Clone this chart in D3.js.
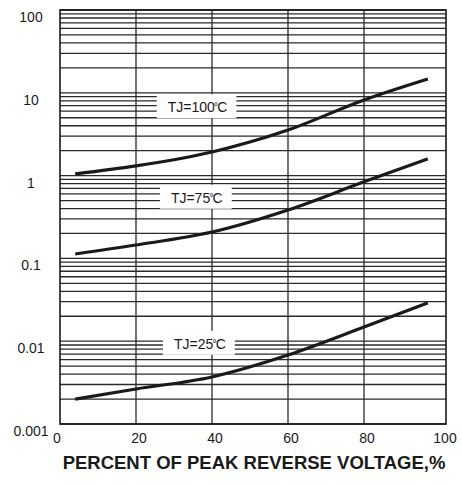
<!DOCTYPE html>
<html>
<head>
<meta charset="utf-8">
<script src="https://cdn.jsdelivr.net/npm/d3@7"></script>
<style>
  body { margin: 0; background: #fff; }
  text { font-family: "Liberation Sans", Arial, sans-serif; fill: #1a1a1a; }
</style>
</head>
<body>
<div id="chart"></div>
<script>
// values
var xPct = [4, 20, 40, 60, 80, 96.8];
var tj100 = [1.05, 1.31, 1.93, 3.55, 8.2, 14.7];
var tj75 = [0.113, 0.145, 0.208, 0.384, 0.84, 1.59];
var tj25 = [0.0020, 0.00265, 0.0037, 0.0068, 0.0148, 0.029];

var seriesNames = ["TJ=100", "TJ=75", "TJ=25"];
var labelX = [36.2, 36, 36.8];
var labelY = [6.7, 0.54, 0.0093];

var xTicks = [0, 20, 40, 60, 80, 100];
var yTicks = [0.001, 0.01, 0.1, 1, 10, 100];
var yTickLabels = ["0.001", "0.01", "0.1", "1", "10", "100"];

(function () {
    var width = 462,
        height = 484;

    var svg = d3.select('#chart')
                .append('svg')
                .attr('width', width)
                .attr('height', height);

    var xScale = d3.scaleLinear().domain([0, 100]).range([60, 440]);
    var yScale = d3.scaleLog().domain([0.001, 100]).range([424, 10]);
    var rightEdge = 446;

    // minor grid: 1..9 in every decade
    var gridVals = [];
    for (var e = -3; e < 2; e++) {
        for (var m = 1; m <= 9; m++) gridVals.push(m * Math.pow(10, e));
    }
    gridVals.push(100);

    var grid = svg.append('g').attr('stroke', '#2a2a2a').attr('stroke-width', 1.3);
    grid.selectAll('line.h')
        .data(gridVals)
        .enter()
        .append('line')
        .attr('class', 'h')
        .attr('x1', xScale(0)).attr('x2', rightEdge)
        .attr('y1', function(d) { return yScale(d); })
        .attr('y2', function(d) { return yScale(d); });

    grid.selectAll('line.v')
        .data(xTicks.slice(1, 5))
        .enter()
        .append('line')
        .attr('class', 'v')
        .attr('y1', yScale(100)).attr('y2', yScale(0.001))
        .attr('x1', function(d) { return xScale(d); })
        .attr('x2', function(d) { return xScale(d); });

    // frame
    svg.append('rect')
        .attr('x', xScale(0)).attr('y', yScale(100))
        .attr('width', rightEdge - xScale(0))
        .attr('height', yScale(0.001) - yScale(100))
        .attr('fill', 'none')
        .attr('stroke', '#1a1a1a')
        .attr('stroke-width', 1.6);

    // curves
    var line = d3.line()
                 .x(function(d) { return xScale(d[0]); })
                 .y(function(d) { return yScale(d[1]); })
                 .curve(d3.curveMonotoneX);

    [tj100, tj75, tj25].forEach(function(s) {
        svg.append('path')
            .datum(xPct.map(function(x, i) { return [x, s[i]]; }))
            .attr('d', line)
            .attr('fill', 'none')
            .attr('stroke', '#1a1a1a')
            .attr('stroke-width', 3.2);
    });

    // labels in white boxes
    seriesNames.forEach(function(name, i) {
        var g = svg.append('g');
        var box = g.append('rect').attr('fill', '#fff');
        var t = g.append('text')
            .attr('x', xScale(labelX[i]))
            .attr('y', yScale(labelY[i]) + 5)
            .attr('text-anchor', 'middle')
            .style('font-size', '14px');
        t.append('tspan').text(name);
        t.append('tspan').attr('dx', -1).style('font-size', '11px').attr('dy', -2).text('°');
        t.append('tspan').attr('dx', -1).attr('dy', 2).text('C');
        var bb = t.node().getBBox();
        box.attr('x', bb.x - 11).attr('y', bb.y - 5)
           .attr('width', bb.width + 20).attr('height', bb.height + 8);
    });

    // y tick labels
    svg.selectAll('text.ylab')
        .data(yTicks)
        .enter()
        .append('text')
        .attr('class', 'ylab')
        .attr('x', 31)
        .attr('y', function(d) { return yScale(d) + 12; })
        .attr('text-anchor', 'middle')
        .style('font-size', '14px')
        .text(function(d, i) { return yTickLabels[i]; });

    // x tick labels
    svg.selectAll('text.xlab')
        .data(xTicks)
        .enter()
        .append('text')
        .attr('class', 'xlab')
        .attr('x', function(d) { return xScale(d) + (d === 100 ? 5 : d === 0 ? -3 : 3); })
        .attr('y', 443)
        .attr('text-anchor', 'middle')
        .style('font-size', '14px')
        .text(function(d) { return d; });

    // axis title
    svg.append('text')
        .attr('x', 254)
        .attr('y', 469)
        .attr('text-anchor', 'middle')
        .style('font-size', '18.5px')
        .style('font-weight', 'bold')
        .text('PERCENT OF PEAK REVERSE VOLTAGE,%');
})();
</script>
</body>
</html>
